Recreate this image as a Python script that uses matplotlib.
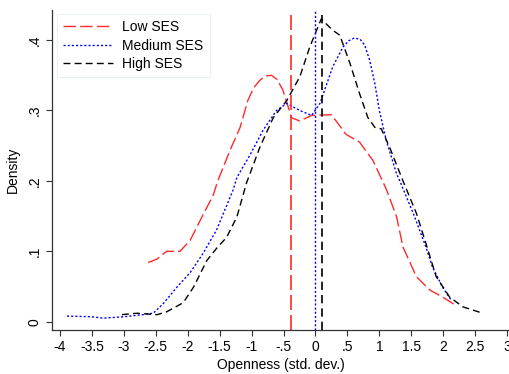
#!/usr/bin/env python3
"""Kernel density of openness by SES group, with group means."""

import matplotlib

matplotlib.use("Agg")
import matplotlib.pyplot as plt

plt.rcParams["font.family"] = ["Liberation Sans", "DejaVu Sans"]

# Low SES density
low_x = [-2.62, -2.48, -2.33, -2.12, -1.96, -1.81, -1.60, -1.53, -1.34, -1.18,
         -1.06, -0.97, -0.87, -0.78, -0.69, -0.60, -0.51, -0.41, -0.38, -0.245,
         -0.06, 0.25, 0.48, 0.69, 0.90, 1.11, 1.27, 1.37, 1.58, 1.79, 1.99,
         2.20]
low_y = [0.084, 0.089, 0.100, 0.100, 0.116, 0.143, 0.180, 0.200, 0.243, 0.276,
         0.314, 0.332, 0.343, 0.349, 0.350, 0.344, 0.329, 0.300, 0.290, 0.285,
         0.293, 0.294, 0.266, 0.255, 0.229, 0.188, 0.149, 0.106, 0.064, 0.045,
         0.035, 0.023]

# Medium SES density
med_x = [-3.89, -3.50, -3.32, -3.00, -2.70, -2.54, -2.38, -2.17, -1.96, -1.76,
         -1.55, -1.29, -1.23, -1.03, -0.82, -0.61, -0.45, -0.245, -0.06, 0.07,
         0.27, 0.43, 0.52, 0.61, 0.70, 0.77, 0.85, 0.93, 1.00, 1.11, 1.27,
         1.32, 1.53, 1.73, 1.83, 1.99, 2.13]
med_y = [0.008, 0.007, 0.005, 0.007, 0.010, 0.012, 0.026, 0.049, 0.070, 0.097,
         0.130, 0.187, 0.205, 0.236, 0.272, 0.300, 0.310, 0.300, 0.293, 0.310,
         0.362, 0.390, 0.399, 0.403, 0.401, 0.393, 0.371, 0.338, 0.300, 0.257,
         0.210, 0.200, 0.154, 0.106, 0.078, 0.049, 0.030]

# High SES density
high_x = [-3.03, -2.80, -2.48, -2.33, -2.07, -1.91, -1.70, -1.55, -1.39, -1.23,
          -1.08, -0.87, -0.66, -0.45, -0.245, -0.09, 0.09, 0.27, 0.38, 0.54,
          0.69, 0.82, 0.93, 1.03, 1.16, 1.37, 1.58, 1.73, 1.89, 2.10, 2.31,
          2.62]
high_y = [0.010, 0.012, 0.010, 0.014, 0.027, 0.049, 0.087, 0.104, 0.120, 0.149,
          0.197, 0.248, 0.290, 0.314, 0.348, 0.390, 0.430, 0.414, 0.407, 0.367,
          0.324, 0.290, 0.276, 0.274, 0.248, 0.200, 0.154, 0.111, 0.064, 0.035,
          0.021, 0.012]

# Group means
mean_low, mean_med, mean_high = -0.39, 0.0, 0.10

x_ticks = [-4, -3.5, -3, -2.5, -2, -1.5, -1, -0.5, 0, 0.5, 1, 1.5, 2, 2.5, 3]
x_labels = ["-4", "-3.5", "-3", "-2.5", "-2", "-1.5", "-1", "-.5", "0", ".5",
            "1", "1.5", "2", "2.5", "3"]
y_ticks = [0, 0.1, 0.2, 0.3, 0.4]
y_labels = ["0", ".1", ".2", ".3", ".4"]

RED, BLUE, BLACK = "#ff2a2a", "#0000ff", "#000000"

fig = plt.figure(figsize=(5.09, 3.74), dpi=100)
ax = fig.add_axes([0.1028, 0.1184, 0.8972, 0.8546])

ax.plot(low_x, low_y, color=RED, lw=1.0, dashes=(9, 3), label="Low SES")
ax.plot(med_x, med_y, color=BLUE, lw=1.0, dashes=(1.5, 1.5), label="Medium SES")
ax.plot(high_x, high_y, color=BLACK, lw=1.0, dashes=(5, 3), label="High SES")

ax.axvline(mean_low, color=RED, lw=1.2, dashes=(9, 3))
ax.axvline(mean_med, color=BLUE, lw=1.0, dashes=(1.5, 1.5))
ax.axvline(mean_high, color=BLACK, lw=1.2, dashes=(5, 3))

ax.set_xlim(-4.12, 3.03)
ax.set_ylim(-0.0114, 0.4426)
ax.set_xticks(x_ticks, x_labels)
ax.set_yticks(y_ticks, y_labels)
for label in ax.get_yticklabels():
    label.set_rotation(90)
    label.set_va("center")
ax.tick_params(labelsize=10, length=4, width=0.8, color="#333333")
ax.set_xlabel("Openness (std. dev.)", fontsize=10, labelpad=3)
ax.set_ylabel("Density", fontsize=10, labelpad=6)

for side in ("top", "right"):
    ax.spines[side].set_visible(False)
for side in ("left", "bottom"):
    ax.spines[side].set_color("#333333")
    ax.spines[side].set_linewidth(0.9)

legend = ax.legend(
    loc="upper left", bbox_to_anchor=(0.112, 0.9626),
    bbox_transform=fig.transFigure, fontsize=10, frameon=True,
    fancybox=False, handlelength=3.6, handletextpad=0.65,
    borderpad=0.45, labelspacing=0.32, borderaxespad=0,
)
legend.get_frame().set_edgecolor("#e4eeee")
legend.get_frame().set_linewidth(0.8)

fig.savefig("out.png", dpi=100)
